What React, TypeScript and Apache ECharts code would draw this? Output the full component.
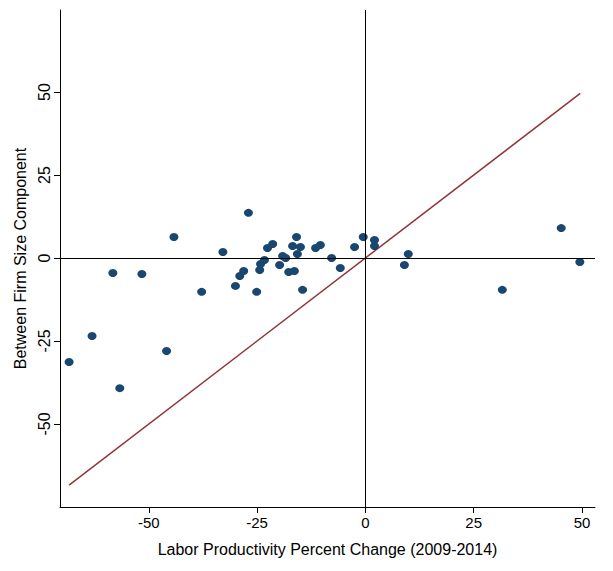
import { useEffect, useRef } from 'react';
import * as echarts from 'echarts';

const pointsX = [
  -68.4, -63.1, -58.3, -56.7, -51.6, -45.9, -44.2, -37.8, -32.9, -30, -29, -28.1, -27, -25.1,
  -24.4, -24.2, -23.3, -22.6, -21.4, -19.8, -19.1, -18.4, -17.7, -16.8, -16.4, -15.9, -15.7,
  -15, -14.5, -11.5, -10.4, -7.8, -5.8, -2.5, -0.5, 2.1, 2.1, 9, 9.9, 31.6, 45.2, 49.5,
];
const pointsY = [
  -31.3, -23.5, -4.5, -39.2, -4.8, -28, 6.3, -10.2, 1.8, -8.4, -5.4, -3.9, 13.6, -10.2,
  -3.6, -1.8, -0.6, 3, 4.2, -2.1, 0.6, 0, -4.2, 3.6, -3.9, 6.3, 1.2,
  3.3, -9.6, 3, 3.9, 0, -3, 3.3, 6.3, 5.4, 3.6, -2.1, 1.2, -9.6, 9, -1.2,
];
const fitLine = [
  [-68.4, -68.4],
  [49.6, 49.6],
];
const tickValues = [-50, -25, 0, 25, 50];

export default function App() {
  const chartRef = useRef<HTMLDivElement>(null);

  useEffect(() => {
    if (!chartRef.current) return;
    const chart = echarts.init(chartRef.current, null, { renderer: 'svg' });
    const font = 'Liberation Sans, Arial, sans-serif';
    const axisCommon = {
      axisLine: { show: true, onZero: false, lineStyle: { color: '#000', width: 1 } },
      axisTick: { show: true, length: 6, customValues: tickValues, lineStyle: { color: '#000' } },
      splitLine: { show: false },
      nameLocation: 'middle' as const,
      nameTextStyle: { color: '#000', fontSize: 16, fontFamily: font },
    };
    chart.setOption({
      animation: false,
      backgroundColor: '#fff',
      grid: { left: 60, right: 18, top: 10, bottom: 64 },
      xAxis: {
        type: 'value',
        min: -70.5,
        max: 53,
        ...axisCommon,
        name: 'Labor Productivity Percent Change (2009-2014)',
        nameGap: 34,
        axisLabel: { customValues: tickValues, color: '#000', fontSize: 15, fontFamily: font, margin: 8 },
      },
      yAxis: {
        type: 'value',
        min: -75,
        max: 74.7,
        ...axisCommon,
        name: 'Between Firm Size Component',
        nameGap: 30,
        axisLabel: {
          customValues: tickValues,
          rotate: 90,
          color: '#000',
          fontSize: 16,
          fontFamily: font,
          margin: 8,
        },
      },
      series: [
        {
          type: 'scatter',
          data: pointsX.map((x, i) => [x, pointsY[i]]),
          symbolSize: [9, 8],
          itemStyle: { color: '#1a476f', opacity: 1 },
          markLine: {
            silent: true,
            symbol: 'none',
            label: { show: false },
            lineStyle: { color: '#000', width: 1, type: 'solid' },
            data: [{ xAxis: 0 }, { yAxis: 0 }],
          },
          z: 3,
        },
        {
          type: 'line',
          data: fitLine,
          symbol: 'none',
          lineStyle: { color: '#90353b', width: 1.5 },
          z: 2,
        },
      ],
    });
    return () => chart.dispose();
  }, []);

  return <div ref={chartRef} style={{ width: 613, height: 571, position: 'absolute', left: 0, top: 0 }} />;
}
